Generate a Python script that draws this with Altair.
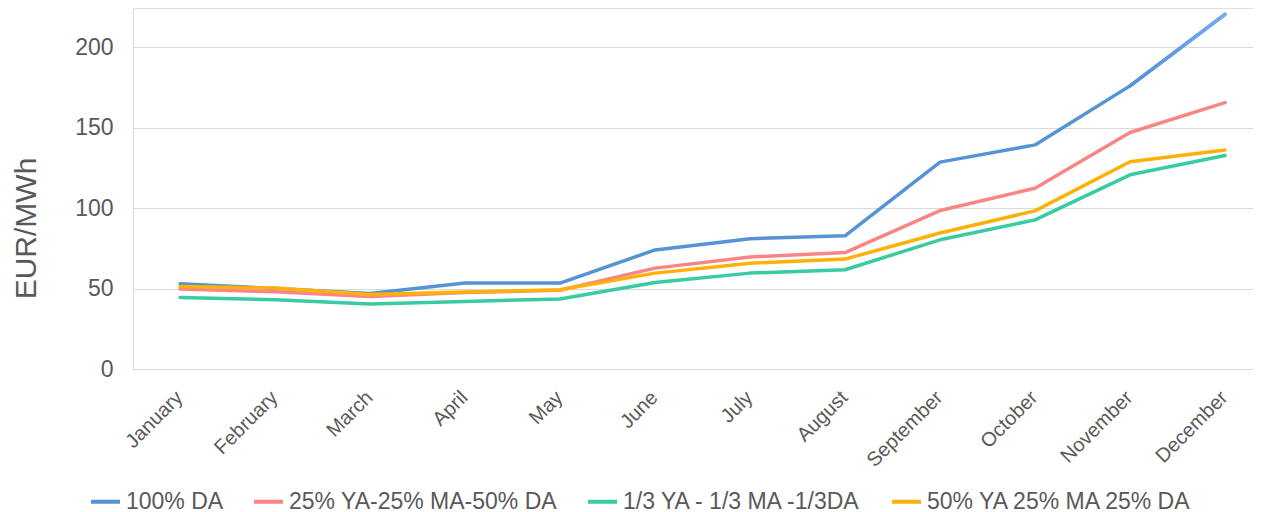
import altair as alt
import pandas as pd

months = ["January", "February", "March", "April", "May", "June", "July",
          "August", "September", "October", "November", "December"]
series_names = ["100% DA", "25% YA-25% MA-50% DA", "1/3 YA - 1/3 MA -1/3DA", "50% YA 25% MA 25% DA"]
da100 = [53, 50, 47, 53.4, 53.4, 74, 81, 82.8, 128.6, 139.3, 176, 220.5]
mix25_25_50 = [49.7, 48, 45, 47.5, 49, 62.7, 69.6, 72.4, 98.5, 112.4, 147, 165.6]
thirds = [44.5, 43, 40.4, 42, 43.5, 53.8, 59.6, 61.7, 80.3, 92.7, 120.7, 132.7]
mix50_25_25 = [51.3, 50.3, 46.3, 47.8, 49.3, 59.6, 65.8, 68.3, 84.5, 98.3, 128.8, 136.2]
colors = ["#5593d5", "#f98585", "#38cba4", "#ffb10a"]

rows = []
for name, vals in zip(series_names, [da100, mix25_25_50, thirds, mix50_25_25]):
    for m, v in zip(months, vals):
        rows.append({"month": m, "series": name, "value": v})
df = pd.DataFrame(rows)

GRAY = "#595959"
FONT = "Liberation Sans"

x_enc = alt.X("month:N", sort=months,
              scale=alt.Scale(type="point", padding=0.395, align=0.627),
              axis=alt.Axis(title=None, labelAngle=-45, labelFontSize=20, labelColor=GRAY,
                            labelFont=FONT, ticks=False, domain=False, grid=False,
                            labelPadding=18, labelOffset=-8))
y_enc = alt.Y("value:Q",
              scale=alt.Scale(domain=[0, 224.4], nice=False, zero=True),
              axis=alt.Axis(values=[0, 50, 100, 150, 200], title="EUR/MWh",
                            titleFontSize=30, titleFontWeight="normal", titleColor=GRAY,
                            titleFont=FONT, titleX=-98, titleY=220, titleAngle=-90,
                            titleBaseline="alphabetic", titleAlign="center",
                            labelFontSize=23, labelColor=GRAY, labelFont=FONT,
                            labelPadding=20, ticks=False, domain=False,
                            gridColor="#d9d9d9", gridWidth=1))

lines = alt.Chart(df).mark_line(strokeWidth=3.5, strokeCap="round", strokeJoin="round").encode(
    x=x_enc,
    y=y_enc,
    color=alt.Color("series:N",
                    scale=alt.Scale(domain=series_names, range=colors),
                    legend=alt.Legend(title=None, orient="none", direction="horizontal",
                                      legendX=-44, legendY=477,
                                      symbolType="stroke", symbolStrokeWidth=4,
                                      symbolSize=841, labelFontSize=23, labelColor=GRAY,
                                      labelFont=FONT, labelOffset=4, columnPadding=22,
                                      padding=0, labelLimit=400)),
)

grad = alt.LinearGradient(gradient="linear",
                          stops=[alt.GradientStop(color="#5593d5", offset=0),
                                 alt.GradientStop(color="#75a8f8", offset=1)],
                          x1=0, x2=1, y1=0, y2=0)
tail = alt.Chart(df).transform_filter(
    (alt.datum.series == series_names[0]) &
    ((alt.datum.month == "November") | (alt.datum.month == "December"))
).mark_line(strokeWidth=3.5, strokeCap="round", color=grad).encode(
    x=x_enc, y=y_enc
)

chart = alt.layer(lines, tail).properties(
    width=1120, height=361,
    autosize=alt.AutoSizeParams(type="none"),
    padding={"left": 125, "top": 0, "right": 0, "bottom": 150},
).configure_view(strokeWidth=0).configure(font=FONT)

chart.save("out.html", embed_options={"renderer": "svg", "actions": False})
